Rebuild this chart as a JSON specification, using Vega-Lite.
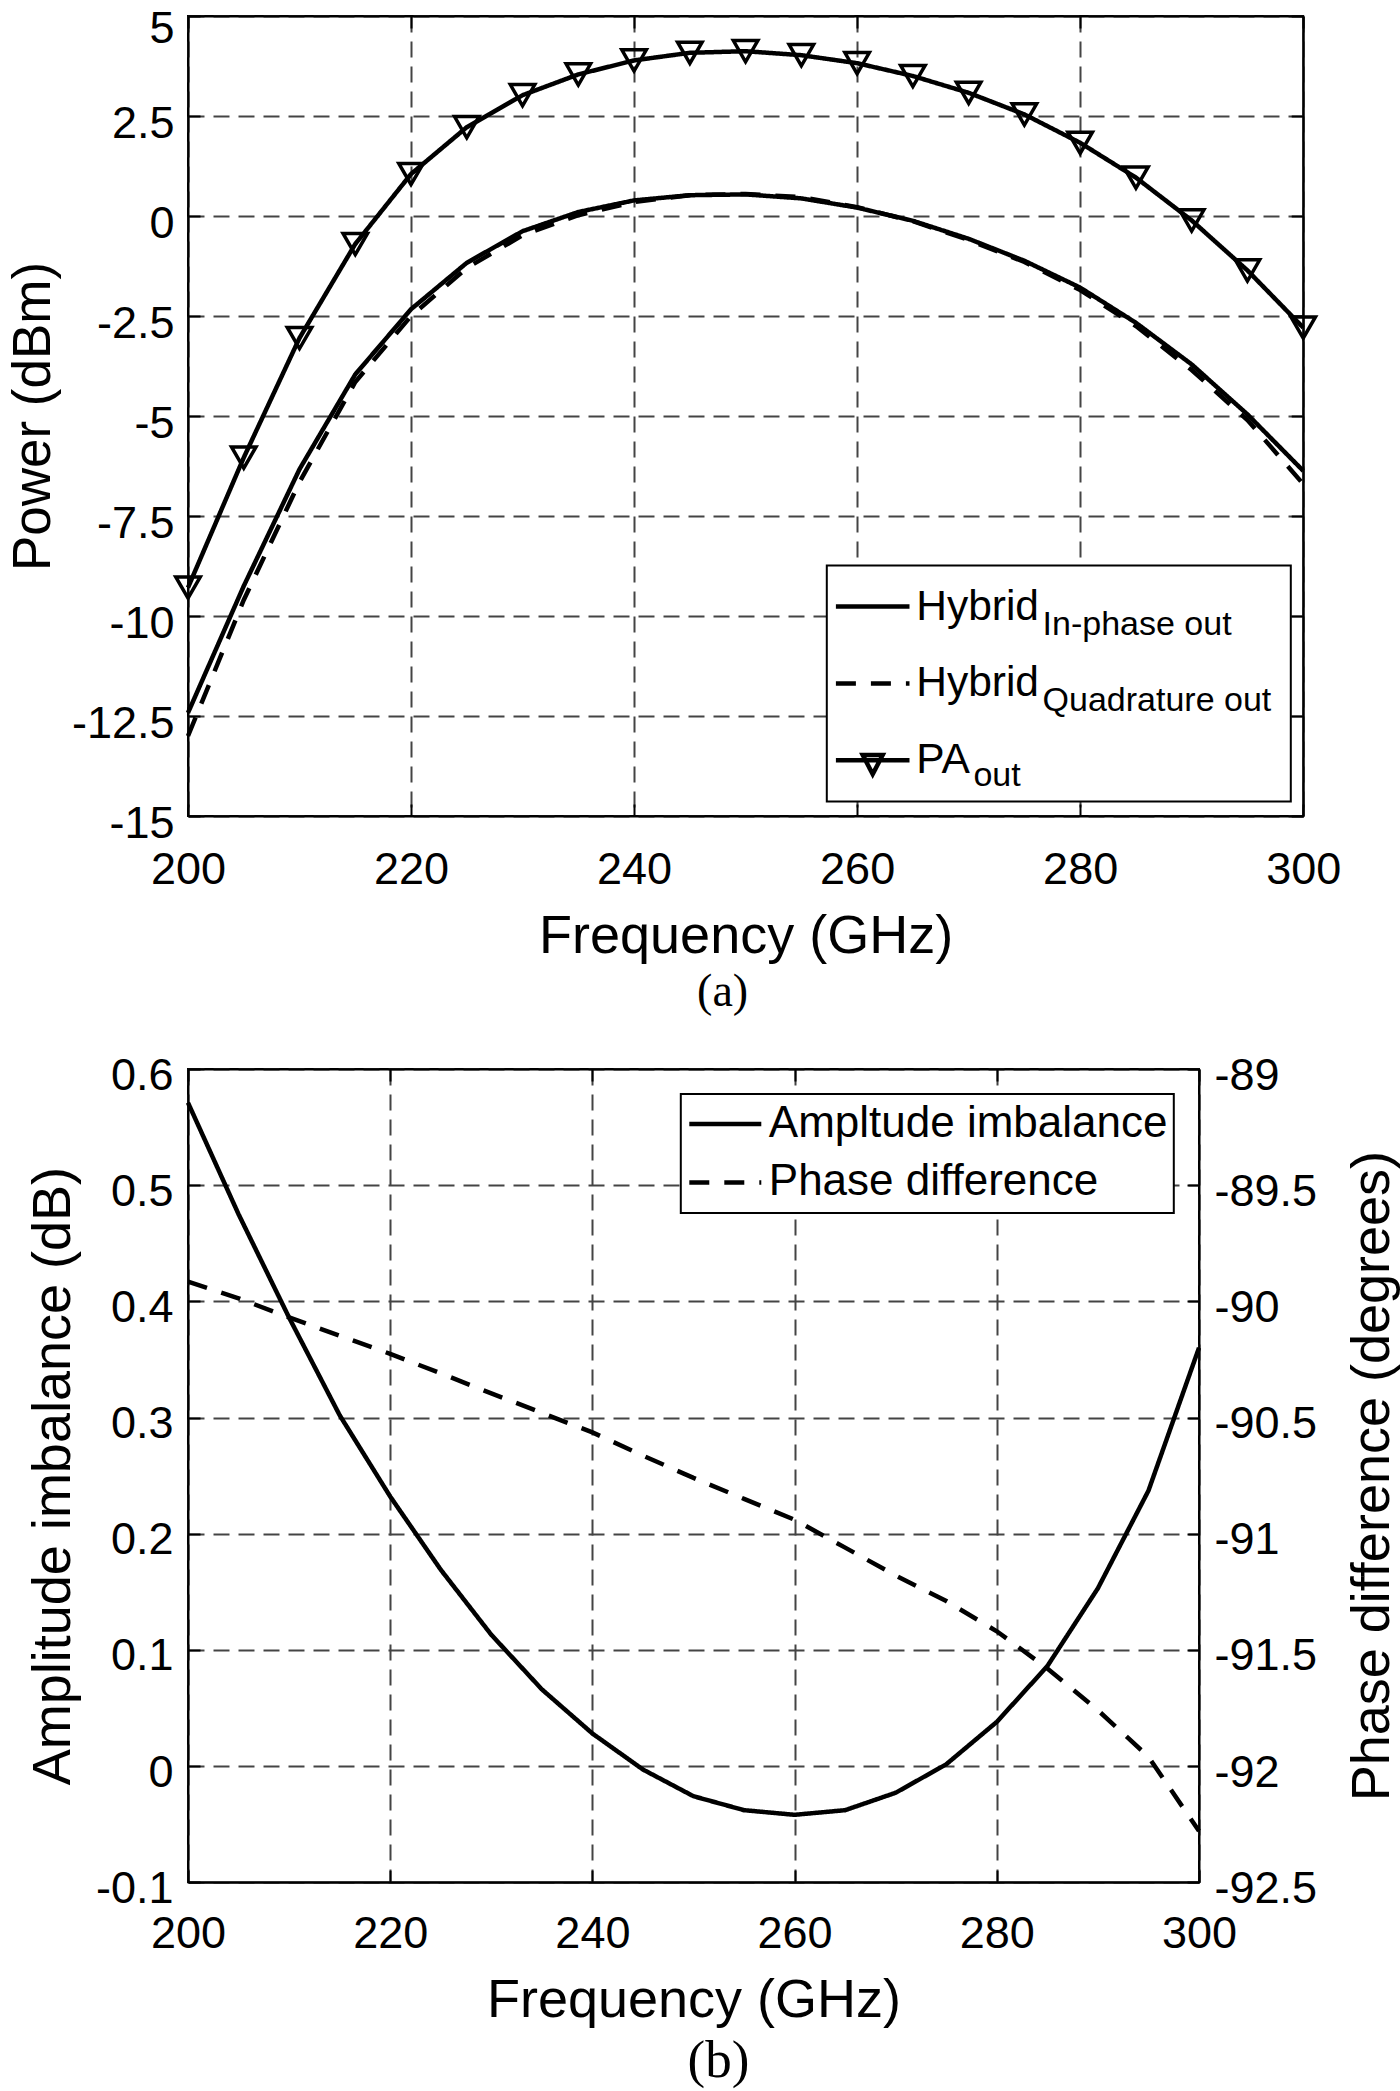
{
  "$schema": "https://vega.github.io/schema/vega-lite/v6.json",
  "background": "white",
  "padding": {"left": 6, "top": 5, "right": 0, "bottom": 0},
  "bounds": "flush",
  "spacing": 253,
  "resolve": {"scale": {"strokeDash": "independent", "opacity": "independent", "strokeWidth": "independent"}, "legend": {"strokeDash": "independent", "opacity": "independent", "strokeWidth": "independent"}},
  "datasets": {
    "power": [
      {"f": 200, "s": "Hybrid In-phase out", "p": -12.42}, {"f": 200, "s": "Hybrid Quadrature out", "p": -13.0}, {"f": 200, "s": "PA out", "p": -9.29},
      {"f": 205, "s": "Hybrid In-phase out", "p": -9.25}, {"f": 205, "s": "Hybrid Quadrature out", "p": -9.6}, {"f": 205, "s": "PA out", "p": -6.04},
      {"f": 210, "s": "Hybrid In-phase out", "p": -6.33}, {"f": 210, "s": "Hybrid Quadrature out", "p": -6.65}, {"f": 210, "s": "PA out", "p": -3.05},
      {"f": 215, "s": "Hybrid In-phase out", "p": -3.96}, {"f": 215, "s": "Hybrid Quadrature out", "p": -4.15}, {"f": 215, "s": "PA out", "p": -0.7},
      {"f": 220, "s": "Hybrid In-phase out", "p": -2.33}, {"f": 220, "s": "Hybrid Quadrature out", "p": -2.5}, {"f": 220, "s": "PA out", "p": 1.05},
      {"f": 225, "s": "Hybrid In-phase out", "p": -1.17}, {"f": 225, "s": "Hybrid Quadrature out", "p": -1.3}, {"f": 225, "s": "PA out", "p": 2.22},
      {"f": 230, "s": "Hybrid In-phase out", "p": -0.38}, {"f": 230, "s": "Hybrid Quadrature out", "p": -0.48}, {"f": 230, "s": "PA out", "p": 3.02},
      {"f": 235, "s": "Hybrid In-phase out", "p": 0.1}, {"f": 235, "s": "Hybrid Quadrature out", "p": 0.02}, {"f": 235, "s": "PA out", "p": 3.54},
      {"f": 240, "s": "Hybrid In-phase out", "p": 0.39}, {"f": 240, "s": "Hybrid Quadrature out", "p": 0.35}, {"f": 240, "s": "PA out", "p": 3.89},
      {"f": 245, "s": "Hybrid In-phase out", "p": 0.52}, {"f": 245, "s": "Hybrid Quadrature out", "p": 0.52}, {"f": 245, "s": "PA out", "p": 4.08},
      {"f": 250, "s": "Hybrid In-phase out", "p": 0.54}, {"f": 250, "s": "Hybrid Quadrature out", "p": 0.55}, {"f": 250, "s": "PA out", "p": 4.12},
      {"f": 255, "s": "Hybrid In-phase out", "p": 0.44}, {"f": 255, "s": "Hybrid Quadrature out", "p": 0.47}, {"f": 255, "s": "PA out", "p": 4.02},
      {"f": 260, "s": "Hybrid In-phase out", "p": 0.21}, {"f": 260, "s": "Hybrid Quadrature out", "p": 0.22}, {"f": 260, "s": "PA out", "p": 3.82},
      {"f": 265, "s": "Hybrid In-phase out", "p": -0.12}, {"f": 265, "s": "Hybrid Quadrature out", "p": -0.13}, {"f": 265, "s": "PA out", "p": 3.5},
      {"f": 270, "s": "Hybrid In-phase out", "p": -0.57}, {"f": 270, "s": "Hybrid Quadrature out", "p": -0.6}, {"f": 270, "s": "PA out", "p": 3.08},
      {"f": 275, "s": "Hybrid In-phase out", "p": -1.12}, {"f": 275, "s": "Hybrid Quadrature out", "p": -1.15}, {"f": 275, "s": "PA out", "p": 2.54},
      {"f": 280, "s": "Hybrid In-phase out", "p": -1.79}, {"f": 280, "s": "Hybrid Quadrature out", "p": -1.85}, {"f": 280, "s": "PA out", "p": 1.83},
      {"f": 285, "s": "Hybrid In-phase out", "p": -2.67}, {"f": 285, "s": "Hybrid Quadrature out", "p": -2.75}, {"f": 285, "s": "PA out", "p": 0.96},
      {"f": 290, "s": "Hybrid In-phase out", "p": -3.71}, {"f": 290, "s": "Hybrid Quadrature out", "p": -3.85}, {"f": 290, "s": "PA out", "p": -0.11},
      {"f": 295, "s": "Hybrid In-phase out", "p": -4.96}, {"f": 295, "s": "Hybrid Quadrature out", "p": -5.1}, {"f": 295, "s": "PA out", "p": -1.36},
      {"f": 300, "s": "Hybrid In-phase out", "p": -6.37}, {"f": 300, "s": "Hybrid Quadrature out", "p": -6.7}, {"f": 300, "s": "PA out", "p": -2.79}
    ],
    "imb": [
      {"f": 200, "amp": 0.571, "ph": -89.915},
      {"f": 205, "amp": 0.475, "ph": -89.987},
      {"f": 210, "amp": 0.386, "ph": -90.069},
      {"f": 215, "amp": 0.302, "ph": -90.148},
      {"f": 220, "amp": 0.232, "ph": -90.226},
      {"f": 225, "amp": 0.169, "ph": -90.31},
      {"f": 230, "amp": 0.113, "ph": -90.396},
      {"f": 235, "amp": 0.066, "ph": -90.48},
      {"f": 240, "amp": 0.028, "ph": -90.564},
      {"f": 245, "amp": -0.003, "ph": -90.664},
      {"f": 250, "amp": -0.026, "ph": -90.76},
      {"f": 255, "amp": -0.038, "ph": -90.85},
      {"f": 260, "amp": -0.042, "ph": -90.94},
      {"f": 265, "amp": -0.038, "ph": -91.06},
      {"f": 270, "amp": -0.023, "ph": -91.18},
      {"f": 275, "amp": 0.0015, "ph": -91.29},
      {"f": 280, "amp": 0.038, "ph": -91.42},
      {"f": 285, "amp": 0.086, "ph": -91.58},
      {"f": 290, "amp": 0.153, "ph": -91.76},
      {"f": 295, "amp": 0.237, "ph": -91.96},
      {"f": 300, "amp": 0.36, "ph": -92.28}
    ]
  },
  "vconcat": [
    {
      "width": 1115.2,
      "height": 800,
      "title": {"text": "(a)", "orient": "bottom", "anchor": "middle", "font": "Liberation Serif", "fontSize": 46, "fontWeight": "normal", "color": "black", "baseline": "alphabetic", "offset": 42.5, "dx": -23},
      "data": {"name": "power"},
      "layer": [
        {
          "mark": {"type": "line", "color": "black", "strokeWidth": 4.5, "strokeCap": "butt"},
          "encoding": {
            "x": {"field": "f", "type": "quantitative", "scale": {"domain": [200, 300], "nice": false, "zero": false},
              "axis": {"orient": "bottom", "values": [200, 220, 240, 260, 280, 300], "labelExpr": "'' + datum.value", "title": "Frequency (GHz)", "titleY": 136.7, "labelPadding": 43}},
            "y": {"field": "p", "type": "quantitative", "scale": {"domain": [-15, 5], "nice": false, "zero": false},
              "axis": {"orient": "left", "values": [-15, -12.5, -10, -7.5, -5, -2.5, 0, 2.5, 5], "labelExpr": "'' + datum.value", "title": "Power (dBm)", "titleFontSize": 53, "titleX": -138.6, "titleAngle": 270, "labelPadding": 26,
                "labelOffset": {"condition": {"test": "datum.value == 5", "value": 12}, "value": 7}}},
            "strokeDash": {"field": "s", "type": "nominal",
              "scale": {"domain": ["Hybrid In-phase out", "Hybrid Quadrature out", "PA out"], "range": [[1, 0], [20, 15], [1, 0]]},
              "legend": {"orient": "none", "legendX": 638.8, "legendY": 549.6, "padding": 6.4, "strokeColor": "black", "fillColor": "white",
                "title": ".", "titleOrient": "right", "titleOpacity": 0, "titleFontSize": 10, "titlePadding": 242,
                "symbolSize": 5417, "symbolStrokeWidth": 4.5, "symbolStrokeColor": "black", "symbolFillColor": "transparent",
                "labelFontSize": 42.5, "labelOffset": 4, "labelLimit": 1000, "clipHeight": 69.2, "rowPadding": 6.8,
                "labelExpr": "datum.value == 'PA out' ? 'PA' : 'Hybrid'",
                "encode": {
                  "symbols": {"update": {"shape": {"signal": "datum.value == 'PA out' ? 'M-1,0H1M-0.27,-0.14H0.27L0,0.38Z' : 'M-1,0H1'"}, "fill": {"value": "transparent"}, "stroke": {"value": "black"}}},
                  "legend": {"update": {"strokeWidth": {"value": 2}}}
                }}},
            "opacity": {"field": "s", "type": "nominal",
              "scale": {"range": [1, 1]},
              "legend": {"orient": "none", "legendX": 820.6, "legendY": 589, "title": null, "padding": 0,
                "values": ["Hybrid In-phase out", "Hybrid Quadrature out"],
                "symbolSize": 0, "symbolStrokeWidth": 0, "symbolOpacity": 0,
                "labelFontSize": 34, "labelOffset": 0, "labelLimit": 1000, "clipHeight": 40, "rowPadding": 35.5,
                "labelExpr": "datum.value == 'Hybrid In-phase out' ? 'In-phase out' : 'Quadrature out'",
                "encode": {"symbols": {"update": {"opacity": {"value": 0}}}}}},
            "strokeWidth": {"field": "s", "type": "nominal",
              "scale": {"domain": ["PA out", "Hybrid In-phase out", "Hybrid Quadrature out"], "range": [4.5, 4.5]},
              "legend": {"orient": "none", "legendX": 751.4, "legendY": 740, "title": null, "padding": 0,
                "values": ["PA out"],
                "symbolSize": 0, "symbolOpacity": 0,
                "labelFontSize": 34, "labelOffset": 0, "labelLimit": 1000, "clipHeight": 40,
                "labelExpr": "'out'",
                "encode": {"symbols": {"update": {"opacity": {"value": 0}}}}}}
          }
        },
        {
          "transform": [{"filter": "datum.s == 'PA out'"}],
          "mark": {"type": "point", "shape": "triangle-down", "filled": false, "stroke": "black", "strokeWidth": 3.5, "size": 600, "opacity": 1},
          "encoding": {
            "x": {"field": "f", "type": "quantitative", "scale": {"domain": [200, 300], "nice": false, "zero": false},
              "axis": {"orient": "top", "values": [200, 220, 240, 260, 280, 300], "labels": false, "title": null, "grid": false}},
            "y": {"field": "p", "type": "quantitative", "scale": {"domain": [-15, 5], "nice": false, "zero": false},
              "axis": {"orient": "right", "values": [-15, -12.5, -10, -7.5, -5, -2.5, 0, 2.5, 5], "labels": false, "title": null, "grid": false}}
          }
        }
      ]
    },
    {
      "width": 1011,
      "height": 813.2,
      "title": {"text": "(b)", "orient": "bottom", "anchor": "middle", "font": "Liberation Serif", "fontSize": 53, "fontWeight": "normal", "color": "black", "baseline": "alphabetic", "offset": 49, "dx": 25},
      "data": {"name": "imb"},
      "layer": [
        {
          "mark": {"type": "line", "color": "black", "strokeWidth": 4.5, "strokeCap": "butt"},
          "encoding": {
            "x": {"field": "f", "type": "quantitative", "scale": {"domain": [200, 300], "nice": false, "zero": false},
              "axis": {"orient": "bottom", "values": [200, 220, 240, 260, 280, 300], "labelExpr": "'' + datum.value", "title": "Frequency (GHz)", "titleY": 134.5, "labelPadding": 41}},
            "y": {"field": "amp", "type": "quantitative", "scale": {"domain": [-0.1, 0.6], "nice": false, "zero": false},
              "axis": {"orient": "left", "values": [-0.1, 0, 0.1, 0.2, 0.3, 0.4, 0.5, 0.6], "labelExpr": "'' + datum.value", "title": "Amplitude imbalance (dB)", "titleX": -118.6, "titleAngle": 270, "labelPadding": 27, "labelOffset": 6}},
            "strokeDash": {"datum": "Ampltude imbalance", "type": "nominal",
              "scale": {"domain": ["Ampltude imbalance", "Phase difference"], "range": [[1, 0], [20, 15]]},
              "legend": {"orient": "none", "legendX": 492.8, "legendY": 25, "title": null, "padding": 6, "strokeColor": "black", "fillColor": "white",
                "symbolType": "stroke", "symbolSize": 5184, "symbolStrokeWidth": 4.5, "symbolStrokeColor": "black",
                "labelFontSize": 44, "labelOffset": 5, "labelLimit": 1000, "clipHeight": 48, "rowPadding": 10.4,
                "encode": {"legend": {"update": {"strokeWidth": {"value": 2}}}}}}
          }
        },
        {
          "mark": {"type": "line", "color": "black", "strokeWidth": 4.5, "strokeCap": "butt"},
          "encoding": {
            "x": {"field": "f", "type": "quantitative", "scale": {"domain": [200, 300], "nice": false, "zero": false},
              "axis": {"orient": "top", "values": [200, 220, 240, 260, 280, 300], "labels": false, "title": null, "grid": false}},
            "y": {"field": "ph", "type": "quantitative", "scale": {"domain": [-92.5, -89], "nice": false, "zero": false},
              "axis": {"orient": "right", "grid": false, "values": [-92.5, -92, -91.5, -91, -90.5, -90, -89.5, -89], "labelExpr": "'' + datum.value", "title": "Phase difference (degrees)", "titleX": 189, "titleAngle": 270, "labelPadding": 27, "labelOffset": 6}},
            "strokeDash": {"datum": "Phase difference", "type": "nominal"}
          }
        }
      ],
      "resolve": {"scale": {"y": "independent"}}
    }
  ],
  "config": {
    "view": {"stroke": "black", "strokeWidth": 2},
    "axis": {
      "labelFont": "Liberation Sans", "titleFont": "Liberation Sans", "labelColor": "black", "titleColor": "black",
      "labelFontSize": 45, "titleFontSize": 54, "titleFontWeight": "normal", "titleBaseline": "alphabetic",
      "domainColor": "black", "domainWidth": 2, "tickColor": "black", "tickWidth": 2, "tickSize": -12,
      "grid": true, "gridColor": "#444444", "gridWidth": 2, "gridDash": [16, 9], "gridOpacity": 1,
      "labelFlush": false, "labelOverlap": false
    },
    "legend": {"labelFont": "Liberation Sans", "labelColor": "black"}
  }
}
